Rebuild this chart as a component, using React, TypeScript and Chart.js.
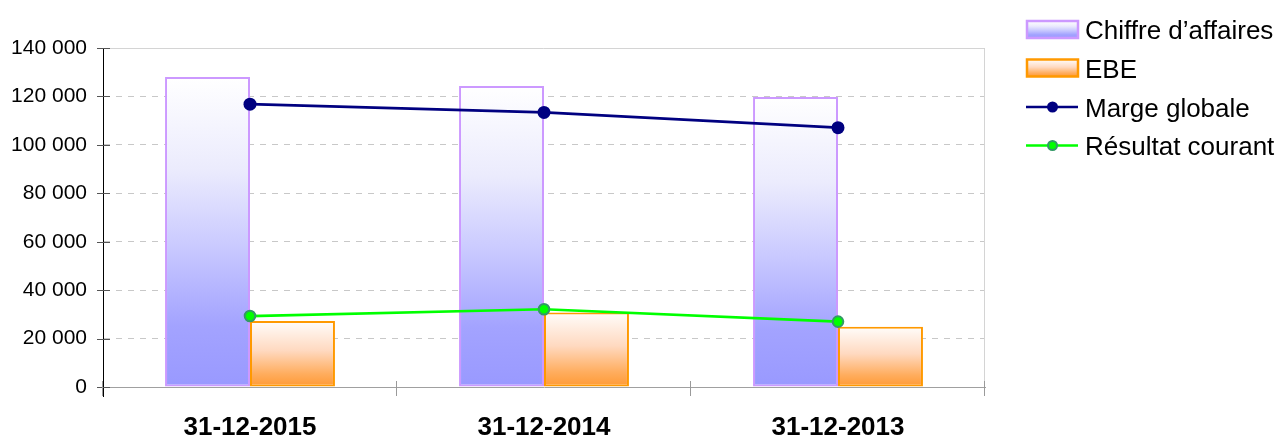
import React, { useEffect, useRef } from "react";
import { Chart, registerables } from "chart.js";

Chart.register(...registerables);

const categories = ["31-12-2015", "31-12-2014", "31-12-2013"];
const chiffreAffaires = [128000, 124300, 119800];
const ebe = [27300, 30800, 24900];
const margeGlobale = [116800, 113400, 107100];
const resultatCourant = [29300, 32100, 27000];
const yMin = 0;
const yMax = 140000;
const yStep = 20000;
const seriesNames = ["Chiffre d’affaires", "EBE", "Marge globale", "Résultat courant"];

const FONT = '"Liberation Sans", Arial, sans-serif';

const caStops: [number, string][] = [
  [0, "#ffffff"],
  [0.3, "#ebebfd"],
  [0.55, "#c9c9ff"],
  [0.8, "#a3a3ff"],
  [1, "#9999ff"],
];
const ebeStops: [number, string][] = [
  [0, "#fffdfb"],
  [0.45, "#ffd9c0"],
  [0.8, "#ffad5e"],
  [1, "#ff9933"],
];

function fmt(v: number): string {
  return String(v).replace(/\B(?=(\d{3})+(?!\d))/g, " ");
}

function barGradient(c: any, stops: [number, string][], fallback: string) {
  const chart = c.chart;
  if (!chart.chartArea || c.type !== "data") return fallback;
  const ys = chart.scales.y;
  const top = ys.getPixelForValue(c.raw as number);
  const bottom = ys.getPixelForValue(0);
  const g = chart.ctx.createLinearGradient(0, top, 0, bottom);
  stops.forEach(([o, col]) => g.addColorStop(o, col));
  return g;
}

const decorPlugin = {
  id: "decor",
  beforeDatasetsDraw(chart: any) {
    const { ctx, chartArea: a } = chart;
    ctx.save();
    ctx.strokeStyle = "#d4d4d4";
    ctx.lineWidth = 1;
    ctx.beginPath();
    ctx.moveTo(a.left, a.top + 0.5);
    ctx.lineTo(a.right - 0.5, a.top + 0.5);
    ctx.lineTo(a.right - 0.5, a.bottom);
    ctx.stroke();
    ctx.restore();
  },
  afterDraw(chart: any) {
    const { ctx, chartArea: a, scales } = chart;
    ctx.save();
    ctx.strokeStyle = "#000000";
    ctx.lineWidth = 1;
    ctx.beginPath();
    ctx.moveTo(a.left + 0.5, a.bottom);
    ctx.lineTo(a.left + 0.5, a.bottom + 10);
    ctx.stroke();
    ctx.strokeStyle = "#555555";
    for (let v = yMin; v <= yMax; v += yStep) {
      const y = Math.round(scales.y.getPixelForValue(v)) + 0.5;
      ctx.beginPath();
      ctx.moveTo(a.left - 6, y);
      ctx.lineTo(a.left + 7, y);
      ctx.stroke();
    }
    ctx.strokeStyle = "#9a9a9a";
    const n = categories.length;
    for (let i = 0; i <= n; i++) {
      const x = Math.round(a.left + (i * (a.right - a.left)) / n) - 0.5;
      ctx.beginPath();
      ctx.moveTo(x, a.bottom - 6);
      ctx.lineTo(x, a.bottom + 9);
      ctx.stroke();
    }

    const rows = [29.5, 68, 107, 145.5];
    const bx0 = 1027;
    const bx1 = 1078;
    ctx.font = "26px " + FONT;
    ctx.textBaseline = "alphabetic";
    ctx.textAlign = "left";
    rows.forEach((cy, i) => {
      if (i < 2) {
        const stops = i === 0 ? caStops : ebeStops;
        const g = ctx.createLinearGradient(0, cy - 8.5, 0, cy + 8.5);
        stops.forEach(([o, col]) => g.addColorStop(o, col));
        ctx.fillStyle = g;
        ctx.fillRect(bx0, cy - 8.5, bx1 - bx0, 17);
        ctx.strokeStyle = i === 0 ? "#cc99ff" : "#ff9900";
        ctx.lineWidth = 2.5;
        ctx.strokeRect(bx0, cy - 8.5, bx1 - bx0, 17);
      } else {
        const lineCol = i === 2 ? "#000080" : "#00ff00";
        ctx.strokeStyle = lineCol;
        ctx.lineWidth = 2.5;
        ctx.beginPath();
        ctx.moveTo(bx0 - 1, cy);
        ctx.lineTo(bx1, cy);
        ctx.stroke();
        ctx.beginPath();
        ctx.arc((bx0 + bx1) / 2, cy, i === 2 ? 5.5 : 4.5, 0, Math.PI * 2);
        ctx.fillStyle = lineCol;
        ctx.fill();
        if (i === 3) {
          ctx.strokeStyle = "#339966";
          ctx.lineWidth = 2;
          ctx.stroke();
        }
      }
      ctx.fillStyle = "#000000";
      ctx.fillText(seriesNames[i], 1085, cy + 9.5);
    });
    ctx.restore();
  },
};

export default function App() {
  const ref = useRef<HTMLCanvasElement>(null);

  useEffect(() => {
    if (!ref.current) return;
    const chart = new Chart(ref.current, {
      type: "bar",
      data: {
        labels: categories,
        datasets: [
          {
            type: "line",
            label: seriesNames[2],
            data: margeGlobale,
            borderColor: "#000080",
            backgroundColor: "#000080",
            borderWidth: 2.7,
            pointRadius: 6.5,
            pointBackgroundColor: "#000080",
            pointBorderColor: "#000080",
            pointBorderWidth: 0,
            tension: 0,
            order: 1,
          } as any,
          {
            type: "line",
            label: seriesNames[3],
            data: resultatCourant,
            borderColor: "#00ff00",
            backgroundColor: "#00ff00",
            borderWidth: 2.7,
            pointRadius: 5.3,
            pointBackgroundColor: "#00ff00",
            pointBorderColor: "#339966",
            pointBorderWidth: 2,
            tension: 0,
            order: 1,
          } as any,
          {
            type: "bar",
            label: seriesNames[0],
            data: chiffreAffaires,
            backgroundColor: (c: any) => barGradient(c, caStops, "#c9c9ff"),
            borderColor: "#cc99ff",
            borderWidth: 2,
            borderSkipped: false,
            categoryPercentage: 0.578,
            barPercentage: 1,
            order: 2,
          } as any,
          {
            type: "bar",
            label: seriesNames[1],
            data: ebe,
            backgroundColor: (c: any) => barGradient(c, ebeStops, "#ffc090"),
            borderColor: "#ff9900",
            borderWidth: 2,
            borderSkipped: false,
            categoryPercentage: 0.578,
            barPercentage: 1,
            order: 2,
          } as any,
        ],
      },
      options: {
        responsive: false,
        animation: false,
        layout: { padding: { left: 0, top: 48, right: 295, bottom: 0 } },
        plugins: {
          legend: { display: false },
          tooltip: { enabled: false },
          title: { display: false },
        },
        scales: {
          x: {
            grid: { display: false, drawTicks: false },
            border: { display: true, color: "#a0a0a0", width: 1 },
            ticks: {
              color: "#000000",
              font: { family: FONT, size: 26, weight: "bold" },
              padding: 25,
            },
            afterFit: (s: any) => {
              s.height = 51;
            },
          },
          y: {
            min: yMin,
            max: yMax,
            grid: { color: "#c8c8c8", lineWidth: 1, drawTicks: false },
            border: { display: true, color: "#000000", width: 1, dash: [6, 6] },
            ticks: {
              stepSize: yStep,
              color: "#000000",
              font: { family: FONT, size: 21 },
              padding: 16,
              callback: (v: any) => fmt(Number(v)),
            },
            afterFit: (s: any) => {
              s.width = 103;
            },
          },
        },
      },
      plugins: [decorPlugin],
    });
    return () => chart.destroy();
  }, []);

  return (
    <div style={{ position: "absolute", left: 0, top: 0, width: 1280, height: 438, background: "#ffffff" }}>
      <canvas ref={ref} width={1280} height={438} style={{ display: "block" }} />
    </div>
  );
}
